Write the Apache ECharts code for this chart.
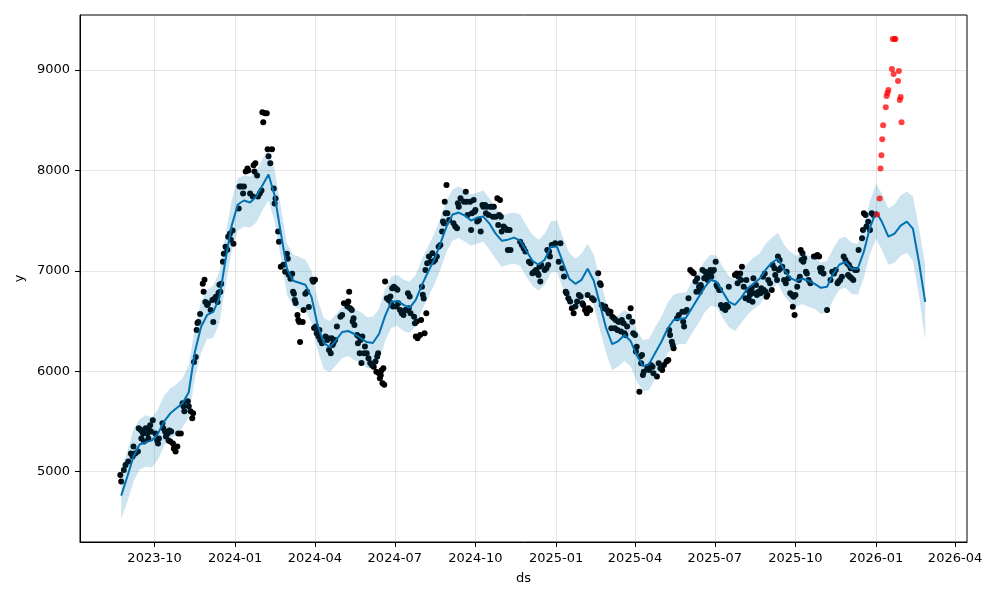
<!DOCTYPE html>
<html>
<head>
<meta charset="utf-8">
<script src="https://cdn.jsdelivr.net/npm/echarts@6/dist/echarts.min.js"></script>
<style>
  html, body { margin: 0; padding: 0; background: #fff; }
  #chart { width: 1000px; height: 600px; }
</style>
</head>
<body>
<div id="chart"></div>
<script>
// ---------------- DATA ----------------
// Observed points (black): [days after obsStartDate, y]
const obsStartDate = '2023-08-24';
const observed = [
  [-1,4965],[0,4900],[3,5015],[5,5065],[8,5100],[11,5180],[13,5150],[14,5250],[16,5180],[19,5200],
  [20,5430],[22,5415],[23,5330],[24,5400],[25,5380],[26,5300],[28,5430],[30,5380],[31,5330],[32,5410],
  [33,5460],[34,5400],[36,5510],[39,5380],[41,5310],[42,5280],[43,5330],[47,5480],[48,5430],[50,5400],
  [51,5350],[53,5380],[54,5310],[55,5410],[56,5300],[57,5400],[59,5280],[60,5230],[62,5200],[64,5250],
  [65,5380],[68,5380],[70,5680],[71,5650],[72,5600],[76,5700],[77,5650],[79,5600],[81,5530],[82,5580],
  [83,6090],[85,6140],[86,6410],[87,6480],[88,6490],[90,6570],[93,6870],[94,6790],[95,6910],[96,6690],
  [98,6660],[99,6675],[102,6610],[104,6710],[105,6490],[106,6720],[108,6740],[110,6690],[111,6780],[112,6860],
  [113,6790],[114,6870],[116,7090],[117,7170],[119,7240],[121,7210],[122,7340],[124,7370],[125,7310],[127,7400],
  [128,7270],[134,7620],[135,7840],[137,7840],[139,7770],[140,7840],[142,7990],[144,8020],[145,8000],[147,7770],
  [150,7740],[151,8050],[152,7990],[153,8070],[155,7950],[156,7740],[158,7770],[160,7800],[161,8580],[162,8480],
  [164,8570],[166,8570],[167,8210],[168,8140],[170,8070],[172,8210],[174,7820],[175,7670],[176,7720],[179,7390],
  [180,7290],[182,7040],[185,7060],[187,6990],[189,7170],[190,7120],[191,6960],[193,6920],[195,6970],[196,6790],
  [197,6770],[198,6710],[199,6680],[201,6560],[202,6510],[203,6490],[204,6290],[207,6490],[208,6610],[210,6770],
  [212,6790],[214,6640],[218,6910],[219,6890],[220,6430],[221,6910],
  [222,6444],[223,6377],[225,6344],[226,6410],[227,6311],[229,6278],[233,6344],[235,6311],[236,6327],[237,6211],
  [239,6178],[240,6327],[241,6260],[242,6278],[244,6311],[246,6444],[250,6543],[252,6560],[254,6676],[258,6643],
  [259,6693],[260,6792],[261,6626],[263,6610],[264,6494],[265,6527],[266,6460],[269,6360],[270,6278],[271,6344],
  [272,6178],[273,6311],[274,6080],[275,6344],[277,6178],[278,6245],[280,6178],[282,6128],[284,6080],[286,6060],
  [288,6045],[290,6095],[291,5995],[292,6145],[293,6178],[294,5980],[295,5930],[296,5960],[297,6010],[298,5880],
  [299,6030],[300,5865],[301,6892],[303,6726],[305,6710],[307,6743],[308,6676],[309,6825],[310,6643],[311,6842],
  [313,6825],[314,6643],[315,6810],[316,6676],[318,6610],[320,6577],[322,6560],[324,6610],[326,6610],[327,6776],
  [328,6626],[329,6743],[330,6577],[334,6543],[335,6477],[336,6344],[337,6494],[338,6327],[341,6360],[342,6510],
  [343,6842],[344,6760],[345,6725],[346,6377],[347,7008],[348,6577],[349,7074],[351,7141],[353,7091],[355,7174],
  [356,7091],[358,7108],[360,7141],[362,7240],[364,7257],[366,7390],[367,7490],[368,7473],[369,7688],[370,7572],
  [371,7855],[372,7572],[374,7506],[379,7473],[381,7440],[383,7423],[384,7672],[385,7639],[387,7722],[391,7688],
  [393,7788],[394,7688],[395,7556],[398,7688],[399,7406],[400,7572],[402,7705],[403,7589],[404,7606],[406,7490],
  [408,7506],[410,7390],[412,7655],[413,7639],[415,7655],[416,7572],[417,7639],[419,7556],[421,7639],[423,7639],
  [424,7539],[425,7639],[427,7539],[429,7722],[430,7456],[431,7556],[432,7705],[433,7539],[434,7390],[436,7440],
  [438,7423],[440,7406],[441,7207],[443,7406],[444,7207],
  [455,7290],[457,7257],[459,7224],[461,7191],[465,7091],[467,7074],[469,6975],[471,6991],[473,7008],[475,6975],
  [476,6958],[477,7041],[478,6892],[479,7058],[483,7008],[485,7025],[486,7207],[487,7058],[488,7191],[489,7141],
  [491,7257],[495,7274],[499,7091],[501,7274],[503,7025],[505,6942],[507,6792],[508,6776],[510,6726],[512,6693],
  [514,6626],[516,6576],[518,6643],[520,6693],[522,6759],[524,6743],[526,6676],[527,6659],[529,6610],[531,6576],
  [532,6759],[533,6626],[535,6610],[537,6726],[539,6710],[544,6975],[546,6875],[547,6859],[548,6659],[550,6626],
  [552,6643],[554,6610],[556,6576],[558,6593],[559,6427],[560,6543],[562,6527],[563,6427],[564,6510],[566,6410],
  [567,6493],[569,6493],[570,6394],[571,6510],[573,6477],[574,6377],[575,6360],[577,6444],[579,6543],[581,6626],
  [583,6493],[584,6377],[586,6360],[587,6195],[588,6244],[591,5796],[592,6145],[593,6078],[594,6161],[595,5962],
  [596,5995],[600,6028],[602,6012],[604,6062],[606,6045],[607,5979],[611,5946],[613,6078],[615,6028],[617,6012],
  [619,6062],[622,6095],[624,6112],[625,6410],[626,6360],[628,6294],[629,6261],[630,6228],[634,6527],[636,6560],
  [640,6593],[641,6493],[642,6444],[643,6593],[645,6610],[647,6726],[649,7008],[651,6991],[653,6975],[655,6892],
  [656,6792],[657,6925],[659,6842],[660,6792],[661,6859],[662,6825],[663,7008],[665,6925],
  [666,6991],[667,6941],[668,6974],[669,6908],[670,6974],[671,6925],[672,7008],[673,6941],[674,6991],[676,7008],
  [678,7091],[679,6858],[680,6842],[682,6808],[683,6808],[684,6659],[686,6626],[688,6642],[689,6609],[690,6659],
  [692,6642],[693,6842],[700,6958],[702,6974],[703,6875],[704,6941],[706,6974],[707,6908],[708,7041],[710,6842],
  [712,6726],[713,6908],[715,6808],[716,6709],[717,6759],[718,6775],[719,6825],[720,6692],[721,6925],[723,6775],
  [724,6858],[725,6759],[727,6792],[729,6775],[730,6825],[731,6792],[732,6941],[733,6808],[734,6974],[735,6792],
  [736,6742],[737,6759],[738,6908],[740,6875],[742,6808],[743,7058],[745,7024],[746,6958],[748,6908],[749,7141],
  [750,7008],[751,7108],[752,7024],[754,7041],[756,6908],[758,6875],[759,6991],[761,6925],[763,6775],[765,6759],
  [766,6642],[767,6742],[768,6559],[769,6759],[771,6842],[773,6908],[774,6941],[775,7207],[776,7108],[777,7174],
  [778,7091],[779,7124],[781,6991],[782,6974],[784,6908],[786,6875],[790,7141],[792,7141],[794,7157],[796,7141],
  [797,7024],[798,6991],[799,7024],[801,6974],[805,6609],[809,6908],[811,6991],[813,6974],[815,7008],[817,6875],
  [818,6891],[820,6908],[822,6941],[824,7141],[826,7108],[828,7074],[829,6958],[830,7058],[831,6941],[832,7024],
  [833,6925],[835,6908],[837,7008],[839,7008],[841,7207],[845,7323],[846,7406],[847,7572],[849,7556],[850,7440],
  [852,7489],[854,7406],[856,7572],[858,7556]
];

// Forecast (weekly) starting from fcStartDate
const fcStartDate = '2023-08-24';
const fcStepDays = 7;
const yhat = [
  4760, 4950, 5150, 5270, 5290, 5310, 5380, 5500, 5580, 5630,
  5680, 5790, 6190, 6440, 6560, 6590, 6730, 7110, 7450, 7660,
  7700, 7680, 7740, 7850, 7960, 7750, 7380, 7020, 6900, 6880,
  6860, 6740, 6460, 6280, 6240, 6310, 6390, 6400, 6370, 6330,
  6290, 6280, 6370, 6550, 6690, 6700, 6660, 6630, 6710, 6860,
  6990, 7110, 7270, 7440, 7560, 7580, 7550, 7500, 7530, 7540,
  7470, 7370, 7300, 7310, 7330, 7300, 7200, 7100, 7060, 7110,
  7240, 7240, 7080, 6920, 6870, 6910, 7020, 6900, 6670, 6430,
  6270, 6300, 6360, 6300, 6160, 6050, 6070, 6180, 6290, 6420,
  6510, 6520, 6530, 6630, 6730, 6830, 6910, 6890, 6790, 6690,
  6660, 6730, 6820, 6870, 6920, 7010, 7080, 7120, 7010, 6930,
  6900, 6920, 6900, 6870, 6830, 6840, 6970, 7060, 7090, 7020,
  7020, 7190, 7430, 7590, 7480, 7340, 7370, 7450, 7490, 7420,
  7080, 6690
];
const yhatLower = [
  4530, 4700, 4900, 5020, 5050, 5040, 5120, 5260, 5330, 5370,
  5440, 5540, 5930, 6180, 6320, 6330, 6480, 6850, 7200, 7400,
  7440, 7430, 7480, 7600, 7700, 7490, 7130, 6760, 6650, 6620,
  6610, 6480, 6210, 6020, 5990, 6060, 6130, 6150, 6110, 6080,
  6030, 6030, 6110, 6300, 6430, 6450, 6400, 6380, 6450, 6610,
  6730, 6860, 7010, 7190, 7300, 7330, 7290, 7250, 7270, 7290,
  7210, 7120, 7040, 7060, 7070, 7050, 6940, 6850, 6800, 6860,
  6980, 6990, 6820, 6670, 6610, 6660, 6760, 6650, 6410, 6180,
  6010, 6050, 6100, 6050, 5900, 5800, 5810, 5930, 6030, 6170,
  6250, 6270, 6270, 6380, 6470, 6580, 6650, 6640, 6530, 6440,
  6400, 6480, 6560, 6620, 6660, 6760, 6820, 6870, 6750, 6680,
  6640, 6670, 6640, 6620, 6570, 6590, 6710, 6810, 6830, 6770,
  6760, 6930, 7170, 7320, 7200, 7060, 7080, 7150, 7180, 7100,
  6740, 6310
];
const yhatUpper = [
  5030, 5200, 5420, 5520, 5560, 5540, 5620, 5760, 5830, 5870,
  5930, 6060, 6430, 6690, 6810, 6850, 6990, 7360, 7700, 7920,
  7950, 7940, 7990, 8110, 8200, 8010, 7640, 7270, 7160, 7140,
  7110, 7000, 6720, 6530, 6500, 6570, 6640, 6660, 6620, 6590,
  6540, 6540, 6620, 6810, 6940, 6960, 6910, 6890, 6960, 7120,
  7240, 7370, 7520, 7700, 7810, 7840, 7800, 7760, 7780, 7800,
  7720, 7630, 7550, 7570, 7580, 7560, 7450, 7360, 7310, 7370,
  7490, 7500, 7330, 7180, 7120, 7170, 7270, 7160, 6920, 6690,
  6520, 6560, 6610, 6560, 6410, 6310, 6320, 6440, 6540, 6680,
  6760, 6780, 6780, 6890, 6980, 7090, 7160, 7150, 7040, 6950,
  6910, 6990, 7070, 7130, 7170, 7270, 7330, 7380, 7260, 7190,
  7150, 7180, 7150, 7130, 7080, 7100, 7220, 7320, 7340, 7280,
  7270, 7450, 7690, 7870, 7760, 7620, 7660, 7750, 7790, 7740,
  7420, 7060
];

// Later actual points (red)
const extraDates = [
  '2026-01-02', '2026-01-05', '2026-01-06', '2026-01-07', '2026-01-08',
  '2026-01-09', '2026-01-12', '2026-01-13', '2026-01-14', '2026-01-15',
  '2026-01-19', '2026-01-20', '2026-01-21', '2026-01-22', '2026-01-23',
  '2026-01-26', '2026-01-27', '2026-01-28', '2026-01-29', '2026-01-30'
];
const extraY = [
  7560, 7720, 8020, 8150, 8310,
  8450, 8630, 8740, 8770, 8800,
  9010, 9310, 8960, 9310, 9310,
  8890, 8990, 8700, 8730, 8480
];

// Axis extents
const xMin = '2023-07-08';
const xMax = '2026-04-14T16:00:00Z';
const yMin = 4298;
const yMax = 9548;

// ---------------- BUILD ----------------
const DAY = 86400000;
const t0obs = Date.parse(obsStartDate);
const t0fc = Date.parse(fcStartDate);
const obsData = observed.map(p => [t0obs + p[0] * DAY, p[1]]);
const fcTimes = yhat.map((v, i) => t0fc + i * fcStepDays * DAY);
const lineData = yhat.map((v, i) => [fcTimes[i], v]);
const extraData = extraY.map((v, i) => [Date.parse(extraDates[i]), v]);

function fmtMonth(v) {
  const d = new Date(v);
  return d.getUTCFullYear() + '-' + String(d.getUTCMonth() + 1).padStart(2, '0');
}

const chart = echarts.init(document.getElementById('chart'), null, { renderer: 'canvas' });
const FONT = 'DejaVu Sans';

chart.setOption({
  animation: false,
  backgroundColor: '#ffffff',
  textStyle: { fontFamily: FONT },
  grid: {
    left: 80, right: 33, top: 15, bottom: 58,
    show: true, borderColor: '#000', borderWidth: 1, backgroundColor: 'transparent'
  },
  xAxis: {
    type: 'time',
    min: Date.parse(xMin),
    max: Date.parse(xMax),
    minInterval: 89 * DAY,
    maxInterval: 92 * DAY,
    name: 'ds',
    nameLocation: 'middle',
    nameGap: 30,
    nameTextStyle: { color: '#000', fontSize: 13, fontFamily: FONT },
    axisLine: { show: true, lineStyle: { color: '#000', width: 1 } },
    axisTick: { show: true, inside: false, length: 5, lineStyle: { color: '#000' } },
    axisLabel: {
      color: '#000', fontSize: 13, fontFamily: FONT, margin: 10,
      showMinLabel: false, showMaxLabel: false,
      formatter: fmtMonth, hideOverlap: false
    },
    splitLine: { show: true, lineStyle: { color: 'rgba(128,128,128,0.2)', width: 1 } }
  },
  yAxis: {
    type: 'value',
    min: yMin,
    max: yMax,
    name: 'y',
    nameLocation: 'middle',
    nameGap: 41,
    nameRotate: 90,
    nameTextStyle: { color: '#000', fontSize: 13, fontFamily: FONT },
    axisLine: { show: true, lineStyle: { color: '#000', width: 1 } },
    axisTick: { show: true, inside: false, length: 5, lineStyle: { color: '#000' } },
    axisLabel: {
      color: '#000', fontSize: 13, fontFamily: FONT, margin: 10,
      showMinLabel: false, showMaxLabel: false,
      formatter: function (v) { return String(Math.round(v)); }
    },
    splitLine: { show: true, lineStyle: { color: 'rgba(128,128,128,0.2)', width: 1 } }
  },
  series: [
    {
      type: 'scatter',
      name: 'obs',
      data: obsData,
      symbol: 'circle',
      symbolSize: 6,
      itemStyle: { color: '#000', opacity: 1 },
      z: 2,
      silent: true
    },
    {
      type: 'line',
      name: 'yhat',
      data: lineData,
      showSymbol: false,
      symbol: 'none',
      lineStyle: { color: '#0072B2', width: 2 },
      z: 3,
      silent: true
    },
    {
      type: 'custom',
      name: 'band',
      data: [[fcTimes[0], yhatLower[0]]],
      renderItem: function (params, api) {
        const pts = [];
        for (let i = 0; i < fcTimes.length; i++) pts.push(api.coord([fcTimes[i], yhatUpper[i]]));
        for (let i = fcTimes.length - 1; i >= 0; i--) pts.push(api.coord([fcTimes[i], yhatLower[i]]));
        return {
          type: 'polygon',
          shape: { points: pts },
          style: { fill: 'rgba(0,114,178,0.2)', stroke: 'none' }
        };
      },
      z: 4,
      silent: true
    },
    {
      type: 'scatter',
      name: 'actual',
      data: extraData,
      symbol: 'circle',
      symbolSize: 6,
      itemStyle: { color: 'rgba(255,0,0,0.75)', opacity: 1 },
      z: 5,
      silent: true
    }
  ]
});
</script>
</body>
</html>
